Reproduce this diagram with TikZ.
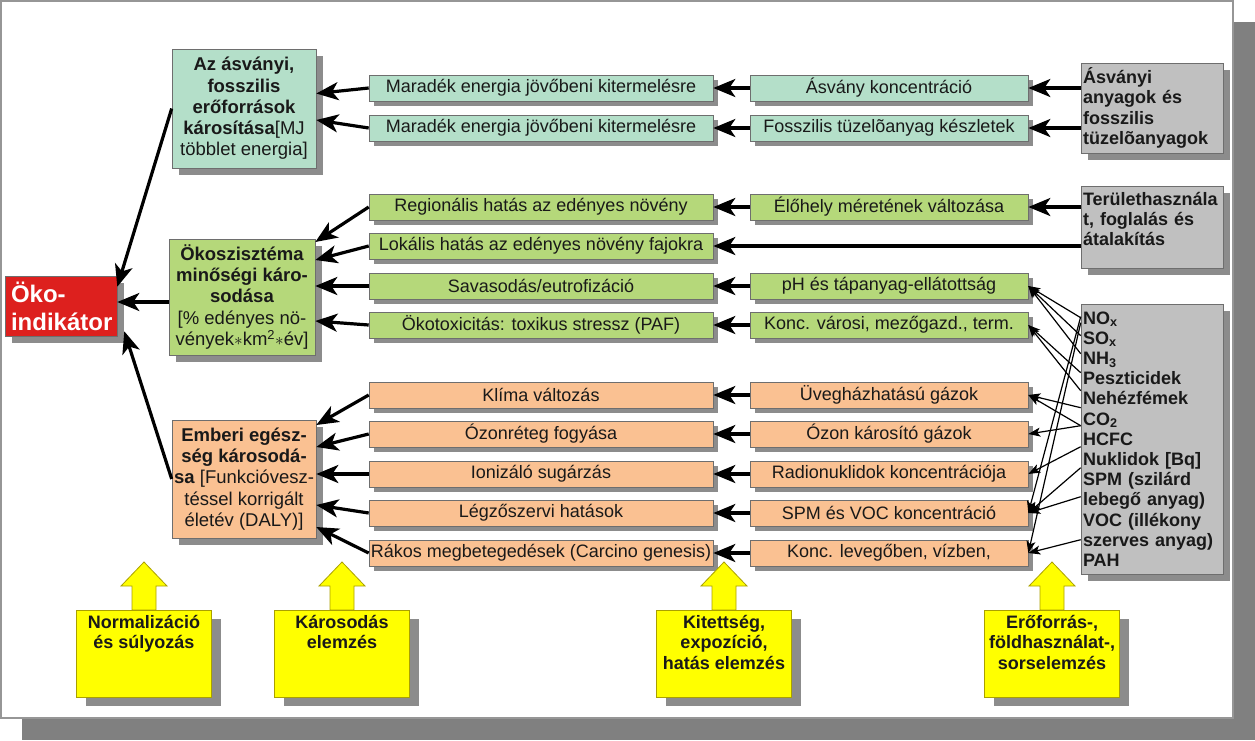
\documentclass[tikz,border=0pt]{standalone}
\usepackage{fontspec}
\setmainfont{Liberation Sans}
\usetikzlibrary{arrows.meta,shadows,calc}
\definecolor{tealbox}{RGB}{180,223,201}
\definecolor{greenbox}{RGB}{181,216,122}
\definecolor{orangebox}{RGB}{250,193,146}
\definecolor{redbox}{RGB}{221,32,30}
\definecolor{graybox}{RGB}{192,192,192}
\definecolor{shd}{RGB}{140,140,140}
\definecolor{frameshd}{RGB}{128,128,128}
\definecolor{framegray}{RGB}{150,150,150}
\definecolor{bordergray}{RGB}{110,110,110}
\definecolor{yel}{RGB}{255,255,0}
\definecolor{yelborder}{RGB}{170,160,0}
\definecolor{txt}{RGB}{25,25,25}
\newcommand\myrowfont{\fontsize{18}{20}\selectfont}
\newcommand\mycatfont{\fontsize{18.5}{21.3}\selectfont}
\newcommand\mygrayfont{\fontsize{18}{20.2}\selectfont\bfseries}
\newcommand\myyelfont{\fontsize{18}{20.5}\selectfont\bfseries}
\newcommand\myredfont{\fontsize{24}{28}\selectfont\bfseries}
\begin{document}
\begin{tikzpicture}[x=1pt,y=-1pt,
  bx/.style={draw=bordergray,line width=0.6pt,inner sep=0pt,text=txt},
  sh5/.style={drop shadow={shadow xshift=5pt,shadow yshift=-5pt,fill=shd,opacity=1}},
  sh7/.style={drop shadow={shadow xshift=7pt,shadow yshift=-7pt,fill=shd,opacity=1}},
  sh9/.style={drop shadow={shadow xshift=9pt,shadow yshift=-9pt,fill=shd,opacity=1}},
  rowA/.style={bx,sh5,minimum width=344pt,minimum height=26pt,font=\myrowfont},
  rowB/.style={bx,sh5,minimum width=278pt,minimum height=26pt,font=\myrowfont},
  catbox/.style={bx,sh7,align=center,font=\mycatfont,minimum width=144pt},
  gbox/.style={bx,sh7,fill=graybox,align=left,text width=138pt,inner xsep=2pt,font=\mygrayfont},
  ybox/.style={draw=yelborder,line width=0.8pt,fill=yel,sh9,minimum width=135pt,minimum height=87pt,inner sep=0pt},
  ytext/.style={align=center,font=\myyelfont,text=txt,inner sep=0pt},
  yarrow/.style={draw=yelborder,line width=0.8pt,fill=yel},
  bigarr/.style={line width=3.2pt,-{Stealth[length=22pt 0 0,width=18pt 0 0,inset=6pt 0]}},
  thinarr/.style={line width=1.2pt,-{Stealth[length=12pt 0 0,width=9pt 0 0,inset=3pt 0]}},
]
\useasboundingbox (0,0) rectangle (1255,740);
\fill[frameshd] (22,22) rectangle (1255,740);
\filldraw[fill=white,draw=framegray,line width=1.5pt] (0.75,0.75) rectangle (1233,718);

% indicator
\node[bx,sh7,fill=redbox,minimum width=112pt,minimum height=60pt,text width=100pt,inner xsep=6pt,align=left,font=\myredfont,text=white] (red) at (61,306) {Öko-\\indikátor};

% category boxes
\node[catbox,fill=tealbox,minimum height=119pt] (teal) at (244,108.5)
  {\textbf{Az ásványi,}\\\textbf{fosszilis}\\\textbf{erőforrások}\\\textbf{károsítása}[MJ\\többlet energia]};
\node[catbox,fill=greenbox,minimum width=146pt,minimum height=116pt] (green) at (242,297)
  {\textbf{Ökoszisztéma}\\\textbf{minőségi káro-}\\\textbf{sodása}\\{[}\% edényes nö-\\vények$\ast$km\textsuperscript{2}$\ast$év]};
\node[catbox,fill=orangebox,minimum height=118pt] (orange) at (244,479)
  {\textbf{Emberi egész-}\\\textbf{ség károsodá-}\\\textbf{sa} [Funkcióvesz-\\téssel korrigált\\életév (DALY)]};

% column A
\node[rowA,fill=tealbox] (a1) at (541,88) {Maradék energia jövőbeni kitermelésre};
\node[rowA,fill=tealbox] (a2) at (541,128) {Maradék energia jövőbeni kitermelésre};
\node[rowA,fill=greenbox] (a3) at (541,207) {Regionális hatás az edényes növény};
\node[rowA,fill=greenbox] (a4) at (541,246) {Lokális hatás az edényes növény fajokra};
\node[rowA,fill=greenbox] (a5) at (541,286) {Savasodás/eutrofizáció};
\node[rowA,fill=greenbox] (a6) at (541,325) {Ökotoxicitás: toxikus stressz (PAF)};
\node[rowA,fill=orangebox] (a7) at (541,395) {Klíma változás};
\node[rowA,fill=orangebox] (a8) at (541,434) {Ózonréteg fogyása};
\node[rowA,fill=orangebox] (a9) at (541,474) {Ionizáló sugárzás};
\node[rowA,fill=orangebox] (a10) at (541,513) {Légzőszervi hatások};
\node[rowA,fill=orangebox] (a11) at (541,553) {Rákos megbetegedések (Carcino genesis)};

% column B
\node[rowB,fill=tealbox] (b1) at (889,88) {Ásvány koncentráció};
\node[rowB,fill=tealbox] (b2) at (889,128) {Fosszilis tüzelõanyag készletek};
\node[rowB,fill=greenbox] (b3) at (889,207) {Élőhely méretének változása};
\node[rowB,fill=greenbox] (b5) at (889,286) {pH és tápanyag-ellátottság};
\node[rowB,fill=greenbox] (b6) at (889,325) {Konc. városi, mezőgazd., term.};
\node[rowB,fill=orangebox] (b7) at (889,395) {Üvegházhatású gázok};
\node[rowB,fill=orangebox] (b8) at (889,434) {Ózon károsító gázok};
\node[rowB,fill=orangebox] (b9) at (889,474) {Radionuklidok koncentrációja};
\node[rowB,fill=orangebox] (b10) at (889,513) {SPM és VOC koncentráció};
\node[rowB,fill=orangebox] (b11) at (889,553) {Konc. levegőben, vízben,};

% source boxes
\node[gbox,minimum height=90pt] (g1) at (1152,108) {Ásványi\\anyagok és\\fosszilis\\tüzelõanyagok};
\node[gbox,minimum height=82pt] (g2) at (1152,227) {Területhasznála\\t, foglalás és\\átalakítás\\[-4pt]\mbox{}};
\node[gbox,minimum height=270pt] (g3) at (1152,439) {NO\textsubscript{x}\\SO\textsubscript{x}\\NH\textsubscript{3}\\Peszticidek\\Nehézfémek\\CO\textsubscript{2}\\HCFC\\Nuklidok [Bq]\\SPM (szilárd\\lebegő anyag)\\VOC (illékony\\szerves anyag)\\PAH};

% yellow callouts
\foreach \n/\cx in {y1/144, y2/342, y3/724, y4/1052}{
  \coordinate (\n top) at (\cx,610);
  \path[yarrow] ($(\n top)+(-12,0)$) -- ($(\n top)+(-12,-24)$) -- ($(\n top)+(-23,-24)$) -- ($(\n top)+(0,-48)$) -- ($(\n top)+(23,-24)$) -- ($(\n top)+(12,-24)$) -- ($(\n top)+(12,0)$) -- cycle;
  \node[ybox,anchor=north] (\n) at (\n top) {};
}
\node[ytext,anchor=north] (y1t) at ($(y1.north)+(0,5)$) {Normalizáció\\és súlyozás};
\node[ytext,anchor=north] (y2t) at ($(y2.north)+(0,5)$) {Károsodás\\elemzés};
\node[ytext,anchor=north] (y3t) at ($(y3.north)+(0,5)$) {Kitettség,\\expozíció,\\hatás elemzés};
\node[ytext,anchor=north] (y4t) at ($(y4.north)+(0,5)$) {Erőforrás-,\\földhasználat-,\\sorselemzés};

% B -> A
\foreach \r in {1,2,3,5,6,7,8,9,10,11}{
  \draw[bigarr] (b\r.west) -- (a\r.east);
}
% sources -> B / A
\draw[bigarr] (g1.west |- b1.east) -- (b1.east);
\draw[bigarr] (g1.west |- b2.east) -- (b2.east);
\draw[bigarr] (g2.west |- b3.east) -- (b3.east);
\draw[bigarr] (g2.west |- a4.east) -- (a4.east);

% A -> categories
\draw[bigarr] (a1.west) -- ([yshift=15pt]teal.east);
\draw[bigarr] (a2.west) -- ([yshift=-11.5pt]teal.east);
\draw[bigarr] (a3.west) -- ([yshift=55pt]green.east);
\draw[bigarr] (a4.west) -- ([yshift=37pt]green.east);
\draw[bigarr] (a5.west) -- ([yshift=11pt]green.east);
\draw[bigarr] (a6.west) -- ([yshift=-24pt]green.east);
\draw[bigarr] (a7.west) -- ([yshift=54pt]orange.east);
\draw[bigarr] (a8.west) -- ([yshift=32pt]orange.east);
\draw[bigarr] (a9.west) -- ([yshift=5pt]orange.east);
\draw[bigarr] (a10.west) -- ([yshift=-26pt]orange.east);
\draw[bigarr] (a11.west) -- ([yshift=-48pt]orange.east);

% categories -> indicator
\draw[bigarr] (teal.west) -- ([yshift=-11pt]red.north east);
\draw[bigarr] ([yshift=-5pt]green.west) -- ([yshift=-5pt]green.west -| red.east);
\draw[bigarr] (orange.west) -- ([xshift=7pt,yshift=5pt]red.south east);

% list -> B (thin)
\foreach \k/\d in {p1/14,p2/32,p3/50,p4/69,p5/87,p6/104,p7/122,p8/143,p9/164,p10/193,p11/13,p12/236,p13/19}{
  \coordinate (\k) at ($(g3.north west)+(0,\d)$);
}
\draw[thinarr] (p1) -- (b5.east);
\draw[thinarr] (p2) -- (b5.east);
\draw[thinarr] (p3) -- (b5.east);
\draw[thinarr] (p4) -- (b6.east);
\draw[thinarr] (p5) -- (b6.east);
\draw[thinarr] (p6) -- (b7.east);
\draw[thinarr] (p7) -- (b7.east);
\draw[thinarr] (p7) -- (b8.east);
\draw[thinarr] (p8) -- (b9.east);
\draw[thinarr] (p9) -- (b10.east);
\draw[thinarr] (p10) -- (b10.east);
\draw[thinarr] (p11) -- (b10.east);
\draw[thinarr] (p12) -- (b11.east);
\draw[thinarr] (p13) -- (b11.east);
\end{tikzpicture}
\end{document}
